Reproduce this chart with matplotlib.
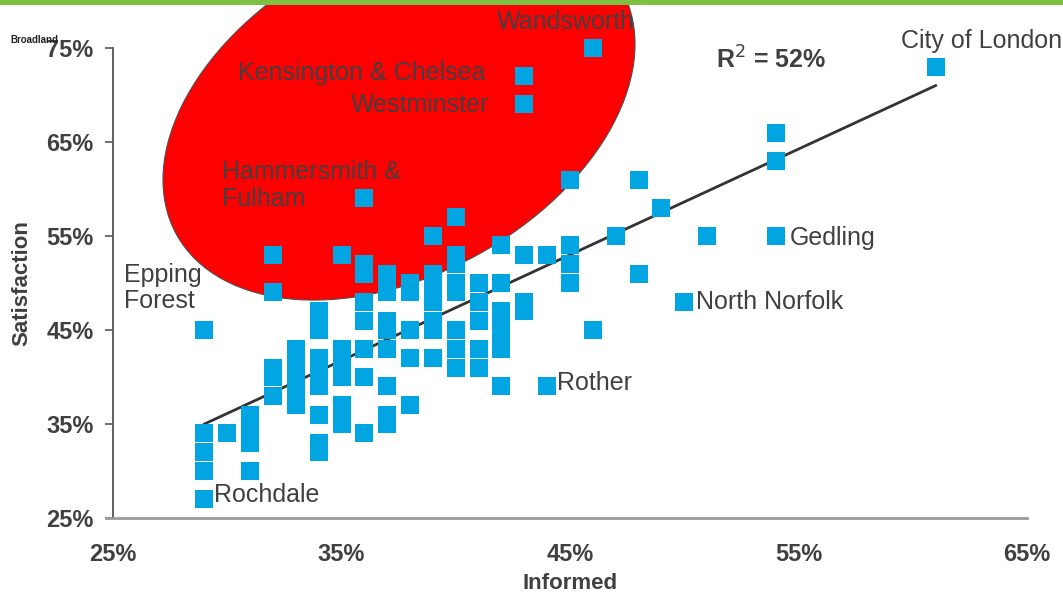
import matplotlib
matplotlib.use("Agg")
import matplotlib.pyplot as plt
from matplotlib.patches import Ellipse, Rectangle
from matplotlib.transforms import IdentityTransform
from matplotlib.ticker import FuncFormatter

# Informed (%) vs satisfaction (%) per council, grouped by informed value
informed_cols = [29, 30, 31, 32, 33, 34, 35, 36, 37, 38, 39, 40, 41, 42, 43, 44, 45, 46, 47, 48, 49, 50, 51, 54, 61]
satisfaction_cols = [
    [27, 30, 32, 34, 45],
    [34],
    [36, 34, 33, 30],
    [53, 49, 41, 40, 38],
    [43, 42, 41, 39, 38, 37],
    [47, 46, 45, 42, 41, 39, 36, 33, 32],
    [53, 43, 42, 41, 40, 37, 36, 35],
    [59, 52, 51, 48, 46, 43, 40, 34],
    [51, 49, 46, 45, 43, 39, 36, 35],
    [50, 49, 45, 42, 37],
    [55, 51, 50, 49, 48, 46, 45, 42],
    [57, 53, 52, 50, 49, 45, 43, 41],
    [50, 48, 46, 43, 41],
    [54, 50, 47, 46, 44, 43, 39],
    [72, 69, 53, 48, 47],
    [53, 39],
    [61, 54, 52, 50],
    [75, 45],
    [55],
    [61, 51],
    [58],
    [48],
    [55],
    [66, 63, 55],
    [73],
]

# Named councils: (name, informed, satisfaction)
label_names = ["Wandsworth", "Kensington & Chelsea", "Westminster", "Hammersmith &\nFulham",
               "City of London", "Epping\nForest", "Gedling", "North Norfolk", "Rother", "Rochdale"]
label_x = [46, 43, 43, 36, 61, 29, 54, 50, 44, 29]
label_y = [75, 72, 69, 59, 73, 45, 55, 48, 39, 27]

# Fitted trend line end points
trend_x = [29, 61]
trend_y = [35, 71]
r_squared = 52

x_ticks = [25, 35, 45, 55, 65]
y_ticks = [25, 35, 45, 55, 65, 75]

xs, ys = [], []
for xv, col in zip(informed_cols, satisfaction_cols):
    for yv in col:
        xs.append(xv)
        ys.append(yv)

TXT = "#404040"
BLUE = "#00A5E2"
plt.rcParams["font.family"] = ["Liberation Sans", "DejaVu Sans"]

fig = plt.figure(figsize=(10.63, 5.96), dpi=100)
fig.patch.set_facecolor("white")
W, H = 1063, 596

# highlight ellipse around the inner-London boroughs (pixel space), kept behind the axes
fig.patches.append(Ellipse((399, H - 112), 508, 326, angle=28.8, transform=IdentityTransform(),
                           facecolor="#FF0000", edgecolor="#505050", linewidth=0.8, zorder=-2))
# green band along the top edge
fig.patches.append(Rectangle((0, H - 5), W, 5, transform=IdentityTransform(),
                             facecolor="#7DC142", edgecolor="none", zorder=-1))

ax = fig.add_axes([113 / W, 1 - 518 / H, 914 / W, 470 / H])
ax.patch.set_alpha(0)
ax.set_xlim(25, 65)
ax.set_ylim(25, 75)

ax.plot(trend_x, trend_y, color="#333333", lw=2, zorder=2)
ax.scatter(xs, ys, marker="s", s=13 ** 2, color=BLUE, linewidths=0, zorder=3, clip_on=False)

offsets = {
    "Wandsworth": ((-27, 26), "center"),
    "Kensington & Chelsea": ((-39, 3), "right"),
    "Westminster": ((-35, -1), "right"),
    "Hammersmith &\nFulham": ((-142, 13), "left"),
    "City of London": ((-35, 26), "left"),
    "Epping\nForest": ((-80, 42), "left"),
    "Gedling": ((14, -2), "left"),
    "North Norfolk": ((12, 0), "left"),
    "Rother": ((10, 3), "left"),
    "Rochdale": ((10, 4), "left"),
}
for name, lx, ly in zip(label_names, label_x, label_y):
    off, ha = offsets[name]
    ax.annotate(name, (lx, ly), xytext=off, textcoords="offset pixels",
                ha=ha, va="center", fontsize=18, color=TXT, zorder=4,
                linespacing=1.15, annotation_clip=False)

ax.text(0.72, 0.975, "R$^{2}$ = %d%%" % r_squared, transform=ax.transAxes,
        fontsize=18, fontweight="bold", color=TXT, ha="center", va="center")

for side in ("top", "right"):
    ax.spines[side].set_visible(False)
ax.spines["left"].set_color("#555555")
ax.spines["left"].set_linewidth(1.3)
ax.spines["bottom"].set_color("#999999")
ax.spines["bottom"].set_linewidth(2)
ax.spines["bottom"].set_bounds(24.7, 65)

pct = FuncFormatter(lambda v, _: "%d%%" % v)
ax.set_xticks(x_ticks)
ax.set_yticks(y_ticks)
ax.xaxis.set_major_formatter(pct)
ax.yaxis.set_major_formatter(pct)
ax.tick_params(axis="x", length=0, pad=18, labelsize=17, labelcolor=TXT)
ax.tick_params(axis="y", length=6, width=1.2, color="#555555", pad=8, labelsize=17, labelcolor=TXT)
for lab in ax.get_xticklabels() + ax.get_yticklabels():
    lab.set_fontweight("bold")

ax.set_xlabel("Informed", fontsize=16, fontweight="bold", color=TXT, labelpad=5)
ax.set_ylabel("Satisfaction", fontsize=16, fontweight="bold", color=TXT, labelpad=10)

fig.text(10 / W, 1 - 40 / H, "Broadland", fontsize=7, fontweight="bold", color="#222222",
         ha="left", va="center")

fig.savefig("out.png", dpi=100)
